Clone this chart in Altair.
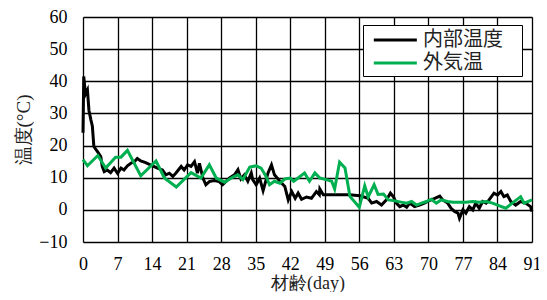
import altair as alt
import pandas as pd

# 内部温度 (internal temperature)
in_days = [0, 0.15, 0.5, 0.9, 1.2, 1.6, 1.9, 2.2, 2.9, 3.6, 3.9, 4.3, 4.9, 5.6, 6.3, 7.0, 7.7, 8.3,
           9.0, 9.7, 10.4, 11.0, 11.7, 12.7, 14.1, 15.1, 16.1, 16.8, 17.5, 18.2, 18.8, 19.9, 20.5,
           21.2, 21.9, 22.6, 23.2, 23.6, 24.3, 24.9, 25.6, 26.6, 27.6, 28.3, 29.7, 30.7, 31.4, 32.0,
           32.7, 33.4, 34.1, 34.4, 35.1, 35.8, 36.5, 37.5, 38.2, 38.8, 39.9, 40.9, 41.6, 42.3, 43.0,
           43.6, 44.3, 45.3, 46.3, 47.3, 47.9, 48.0, 48.7, 54.0, 56.1, 57.8, 58.5, 59.5, 60.5, 61.5,
           62.3, 62.9, 63.5, 64.2, 64.9, 65.6, 66.2, 67.2, 68.2, 69.2, 70.2, 71.3, 72.3, 72.9, 73.9,
           74.6, 75.3, 76.0, 76.3, 77.0, 77.6, 78.3, 79.0, 79.6, 80.3, 81.0, 81.7, 82.3, 83.3, 84.0,
           84.7, 85.3, 86.0, 86.7, 87.7, 88.7, 89.7, 90.7, 91.0]
in_vals = [24, 41.5, 36, 37.3, 31, 28, 26, 19.7, 18.2, 16.6, 13.5, 11.9, 12.4, 11.6, 13, 11.4, 13, 12.4,
           13.7, 14.5, 15, 16, 15.2, 14.7, 13.7, 13, 12.4, 10.9, 11.4, 10.4, 11.4, 13.5, 12.4,
           14, 13.5, 15, 11.4, 14.5, 9.9, 7.8, 8.8, 9.1, 8.8, 7.8, 9.9, 10.9, 12.5, 9.6,
           10.9, 8.9, 11.5, 9.4, 7.8, 9.9, 6, 11.5, 14, 10.9, 8.9, 7.3, 3.1, 5.7, 3.6,
           5.2, 3.3, 4.0, 3.6, 5.7, 4.7, 6.5, 4.7, 4.7, 4.4, 3.6, 2.1, 2.6, 1.5, 3.1,
           5.2, 4.1, 2.1, 1.0, 1.5, 0.8, 2.1, 1.0, 1.5, 2.1, 2.9, 3.6, 4.3, 3.1, 2.1,
           0.5, -0.5, -1.0, -2.6, 0.0, -1.0, 1.0, 0.0, 2.1, 0.5, 2.6, 2.1, 3.1, 5.2, 4.6,
           5.7, 4.1, 4.6, 2.6, 1.5, 2.6, 2.1, 1.0, -0.5]

# 外気温 (outside air temperature)
out_days = [0, 0.9, 3.0, 4.6, 6.6, 7.7, 9.0, 11.7, 14.8, 16.5, 18.9, 21.9, 23.9, 25.6, 27.0, 28.7,
            30.4, 31.4, 32.4, 33.8, 35.1, 36.1, 37.1, 37.8, 38.8, 39.9, 40.9, 42.0, 42.7, 43.6,
            44.9, 45.9, 47.0, 48.0, 49.3, 50.4, 51.0, 52.0, 53.1, 54.1, 56.0, 57.1, 57.8, 59.0,
            59.8, 60.9, 61.9, 63.2, 64.5, 65.6, 66.6, 67.6, 68.6, 69.6, 70.6, 71.6, 72.6, 73.9,
            75.0, 76.3, 77.6, 79.0, 80.3, 81.7, 83.0, 84.0, 85.7, 87.0, 88.7, 89.4, 91.0]
out_vals = [15.6, 13.7, 16.9, 13.0, 16.4, 16.4, 18.5, 10.6, 15.2, 9.9, 7.1, 11.6, 9.9, 14.0, 9.9, 8.6,
            10.2, 10.9, 9.4, 13.3, 13.7, 13.0, 10.4, 7.8, 8.9, 8.3, 9.6, 9.9, 8.9, 9.9,
            11.5, 8.9, 11.5, 9.9, 9.4, 8.9, 6.5, 14.8, 13.0, 4.2, 0.8, 7.5, 4.0, 7.8,
            4.8, 4.9, 3.1, 2.8, 2.4, 2.1, 2.6, 1.5, 2.1, 2.6, 3.3, 2.1, 3.1, 2.6,
            2.4, 2.4, 2.4, 2.6, 2.4, 2.6, 2.1, 1.5, 0.5, 2.1, 4.1, 2.1, 3.1]

x_ticks = list(range(0, 92, 7))
y_ticks = list(range(-10, 61, 10))
series_names = ["内部温度", "外気温"]
series_colors = ["#000000", "#00B050"]

df_in = pd.DataFrame({"day": in_days, "temp": in_vals, "series": series_names[0]})
df_out = pd.DataFrame({"day": out_days, "temp": out_vals, "series": series_names[1]})

SERIF = "Liberation Serif"
CJK = "Noto Sans CJK JP"

color = alt.Color(
    "series:N",
    scale=alt.Scale(domain=series_names, range=series_colors),
    legend=alt.Legend(
        title="\u200b", titleOrient="right", titlePadding=16, titleFontSize=8,
        orient="none", legendX=280, legendY=8,
        symbolType="M-0.4,0L3.7,0", symbolSize=441, symbolStrokeWidth=3,
        labelFont=CJK, labelFontSize=20, labelColor="#222222", labelOffset=33,
        strokeColor="black", fillColor="white", padding=3, rowPadding=1,
    ),
)

x = alt.X(
    "day:Q",
    scale=alt.Scale(domain=[0, 91], nice=False, zero=False),
    axis=alt.Axis(
        values=x_ticks, title="材齢(day)", grid=True, gridColor="black", gridWidth=1.3,
        gridOpacity=1, ticks=False, domain=False, labelFont=SERIF, labelFontSize=18,
        labelColor="black", labelPadding=13.5, labelFlush=False, titleFont=SERIF,
        titleFontSize=18, titleFontWeight="normal", titleColor="#222222", titlePadding=1,
    ),
)
y = alt.Y(
    "temp:Q",
    scale=alt.Scale(domain=[-10, 60], nice=False, zero=False),
    axis=alt.Axis(
        values=y_ticks, title="温度(°C)", grid=True, gridColor="black", gridWidth=1.3,
        gridOpacity=1, ticks=False, domain=False, labelFont=SERIF, labelFontSize=18,
        labelColor="black", labelPadding=16, labelFlush=False, titleFont=SERIF,
        titleFontSize=19, titleFontWeight="normal", titleColor="#222222", titlePadding=5,
    ),
)

line_in = alt.Chart(df_in).mark_line(strokeWidth=3, interpolate="linear").encode(
    x=x, y=y, color=color, order="day:Q")
line_out = alt.Chart(df_out).mark_line(strokeWidth=3, interpolate="linear").encode(
    x=x, y=y, color=color, order="day:Q")

chart = alt.layer(line_in, line_out).properties(
    width=449, height=225,
    autosize=alt.AutoSizeParams(type="none"),
    padding={"left": 75, "top": 9, "right": 7, "bottom": 50},
).configure_view(stroke="black", strokeWidth=1.5).configure(background="white")

chart.save("out.html", embed_options={"renderer": "svg", "actions": False})
